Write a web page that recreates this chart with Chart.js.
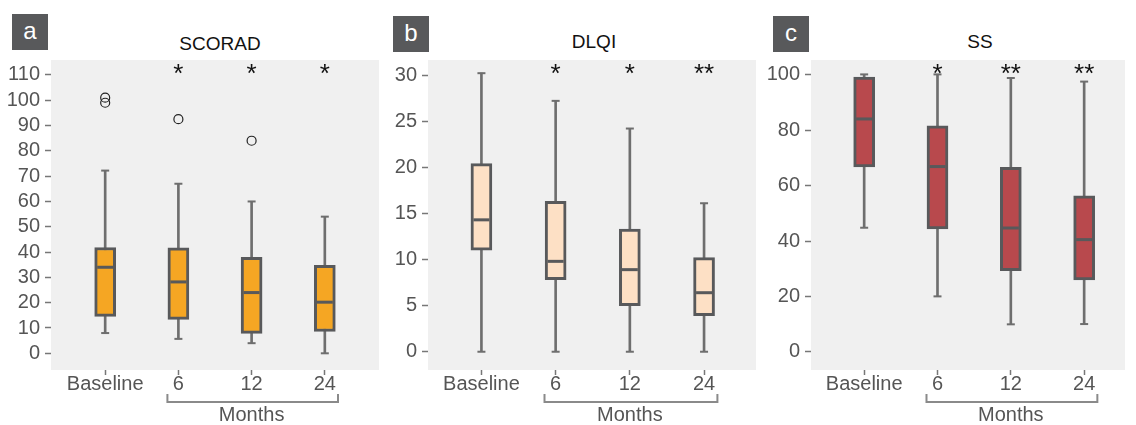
<!DOCTYPE html>
<html>
<head>
<meta charset="utf-8">
<script src="https://cdn.jsdelivr.net/npm/chart.js@4.4.1/dist/chart.umd.min.js"></script>
<style>
  body { margin: 0; background: #fff; width: 1136px; height: 425px; position: relative; overflow: hidden;
         font-family: 'Liberation Sans', Arial, sans-serif; }
  .panel { position: absolute; top: 0; height: 425px; }
  .tag { position: absolute; width: 36px; height: 36px; background: #58595b; color: #fff; font-size: 24px;
         line-height: 33px; text-align: center; }
  .title { position: absolute; width: 200px; margin-left: -100px; text-align: center; font-size: 19px;
           color: #111; line-height: 24px; }
</style>
</head>
<body>
<div class="tag" style="left:12px;top:14px;">a</div>
<div class="tag" style="left:393px;top:16px;">b</div>
<div class="tag" style="left:773px;top:16px;">c</div>
<div class="title" style="left:220px;top:32px;">SCORAD</div>
<div class="title" style="left:594px;top:30px;">DLQI</div>
<div class="title" style="left:980px;top:30px;">SS</div>

<div class="panel" style="left:0;width:390px;"><canvas id="chartA"></canvas></div>
<div class="panel" style="left:390px;width:377px;"><canvas id="chartB"></canvas></div>
<div class="panel" style="left:767px;width:369px;"><canvas id="chartC"></canvas></div>

<script>
// Categories (time points)
const categories = ['Baseline', '6', '12', '24'];

// SCORAD
const scoradMin = [8, 5.7, 4, 0];
const scoradQ1 = [14.6, 13.4, 7.9, 8.6];
const scoradMedian = [34, 28.2, 24, 20.2];
const scoradQ3 = [41.8, 41.7, 37.9, 34.8];
const scoradMax = [72.2, 67, 60, 54];
const scoradOutliers = [[101, 99], [92.5], [84], []];
const scoradStars = ['', '*', '*', '*'];
const scoradTicks = [0, 10, 20, 30, 40, 50, 60, 70, 80, 90, 100, 110];

// DLQI
const dlqiMin = [0, 0, 0, 0];
const dlqiQ1 = [11, 7.8, 5, 3.9];
const dlqiMedian = [14.3, 9.8, 8.9, 6.4];
const dlqiQ3 = [20.4, 16.3, 13.3, 10.2];
const dlqiMax = [30.2, 27.2, 24.2, 16.1];
const dlqiOutliers = [[], [], [], []];
const dlqiStars = ['', '*', '*', '**'];
const dlqiTicks = [0, 5, 10, 15, 20, 25, 30];

// SS
const ssMin = [44.8, 20, 9.9, 10];
const ssQ1 = [66.8, 44.4, 29.3, 25.9];
const ssMedian = [84.1, 66.9, 44.7, 40.5];
const ssQ3 = [99.2, 81.6, 66.6, 56.3];
const ssMax = [100.2, 100.2, 98.9, 97.6];
const ssOutliers = [[], [], [], []];
const ssStars = ['', '*', '**', '**'];
const ssTicks = [0, 20, 40, 60, 80, 100];

const FONT = "'Liberation Sans', Arial, sans-serif";
const EDGE = '#58595b';
const WHISKER = '#6e6e6e';
const TEXT = '#555555';

Chart.defaults.font.family = FONT;
Chart.defaults.animation = false;

// background, significance stars and the "Months" bracket
const panelExtras = {
    id: 'panelExtras',
    beforeDraw(chart) {
        const { ctx, chartArea: a } = chart;
        ctx.save();
        ctx.fillStyle = '#f0f0f0';
        ctx.fillRect(a.left, a.top, a.right - a.left, a.bottom - a.top);
        ctx.restore();
    },
    afterDraw(chart, args, opts) {
        const { ctx, chartArea: a } = chart;
        const xs = chart.scales.x;
        ctx.save();
        // stars
        ctx.fillStyle = '#111';
        ctx.font = '26px ' + FONT;
        ctx.textAlign = 'center';
        ctx.textBaseline = 'alphabetic';
        opts.stars.forEach((s, i) => {
            if (s) ctx.fillText(s, xs.getPixelForValue(i + 1), a.top + 22);
        });
        // bracket under follow-up months
        const x0 = xs.getPixelForValue(2 - 0.15);
        const x1 = xs.getPixelForValue(4 + 0.18);
        const yTop = a.bottom + 24, yBot = a.bottom + 32;
        ctx.strokeStyle = '#8a8a8a';
        ctx.lineWidth = 2;
        ctx.beginPath();
        ctx.moveTo(x0, yTop);
        ctx.lineTo(x0, yBot);
        ctx.lineTo(x1, yBot);
        ctx.lineTo(x1, yTop);
        ctx.stroke();
        ctx.fillStyle = TEXT;
        ctx.font = '20px ' + FONT;
        ctx.textBaseline = 'middle';
        ctx.fillText('Months', xs.getPixelForValue(3), a.bottom + 45);
        ctx.restore();
    }
};

function buildPanel(id, p) {
    const datasets = [
        { // whiskers
            type: 'bar',
            data: p.min.map((v, i) => ({ x: i + 1, y: [v, p.max[i]] })),
            backgroundColor: WHISKER,
            barThickness: 2,
            grouped: false,
            order: 4
        },
        { // whisker caps
            type: 'scatter',
            data: p.min.map((v, i) => ({ x: i + 1, y: v })).concat(p.max.map((v, i) => ({ x: i + 1, y: v }))),
            pointStyle: 'line',
            radius: 4,
            borderColor: WHISKER,
            borderWidth: 2,
            order: 3
        },
        { // boxes
            type: 'bar',
            data: p.q1.map((v, i) => ({ x: i + 1, y: [v, p.q3[i]] })),
            backgroundColor: p.fill,
            borderColor: EDGE,
            borderWidth: 3,
            borderSkipped: false,
            barThickness: 21,
            grouped: false,
            order: 2
        },
        { // medians
            type: 'scatter',
            data: p.median.map((v, i) => ({ x: i + 1, y: v })),
            pointStyle: 'line',
            radius: 8,
            borderColor: EDGE,
            borderWidth: 3,
            order: 1
        },
        { // outliers
            type: 'scatter',
            data: p.outliers.flatMap((list, i) => list.map(v => ({ x: i + 1, y: v }))),
            pointStyle: 'circle',
            radius: 4.5,
            borderColor: '#222',
            borderWidth: 1.2,
            backgroundColor: 'rgba(0,0,0,0)',
            order: 0
        }
    ];

    new Chart(document.getElementById(id), {
        type: 'bar',
        data: { datasets: datasets },
        options: {
            responsive: true,
            maintainAspectRatio: false,
            layout: { padding: { top: 60, left: 0, right: 0, bottom: 0 } },
            scales: {
                x: {
                    type: 'linear',
                    min: p.xMin,
                    max: p.xMax,
                    offset: false,
                    afterBuildTicks: s => { s.ticks = categories.map((c, i) => ({ value: i + 1 })); },
                    afterFit: s => { s.height = 55; },
                    grid: { display: true, offset: false, drawOnChartArea: false, drawTicks: true,
                            tickLength: 5, tickColor: '#777', tickWidth: 1.5 },
                    border: { display: false },
                    ticks: { autoSkip: false, maxRotation: 0, padding: -3, color: TEXT,
                             font: { size: 20 }, callback: v => categories[v - 1] }
                },
                y: {
                    type: 'linear',
                    min: p.yMin,
                    max: p.yMax,
                    afterBuildTicks: s => { s.ticks = p.ticks.map(v => ({ value: v })); },
                    afterFit: s => { s.width = p.yWidth; },
                    grid: { display: true, drawOnChartArea: false, drawTicks: true,
                            tickLength: 6, tickColor: '#777', tickWidth: 1.5 },
                    border: { display: false },
                    ticks: { padding: 5, color: TEXT, font: { size: 20 } }
                }
            },
            plugins: {
                legend: { display: false },
                tooltip: { enabled: false },
                panelExtras: { stars: p.stars }
            }
        },
        plugins: [panelExtras]
    });
}

buildPanel('chartA', {
    min: scoradMin, q1: scoradQ1, median: scoradMedian, q3: scoradQ3, max: scoradMax,
    outliers: scoradOutliers, stars: scoradStars, ticks: scoradTicks,
    fill: '#f5a623', yMin: -6.6, yMax: 115.9, xMin: 0.26, xMax: 4.74, yWidth: 51
});
buildPanel('chartB', {
    min: dlqiMin, q1: dlqiQ1, median: dlqiMedian, q3: dlqiQ3, max: dlqiMax,
    outliers: dlqiOutliers, stars: dlqiStars, ticks: dlqiTicks,
    fill: '#fde0c5', yMin: -1.98, yMax: 31.63, xMin: 0.28, xMax: 4.70, yWidth: 38
});
buildPanel('chartC', {
    min: ssMin, q1: ssQ1, median: ssMedian, q3: ssQ3, max: ssMax,
    outliers: ssOutliers, stars: ssStars, ticks: ssTicks,
    fill: '#b8494d', yMin: -6.6, yMax: 105.4, xMin: 0.275, xMax: 4.557, yWidth: 44
});
</script>
</body>
</html>
